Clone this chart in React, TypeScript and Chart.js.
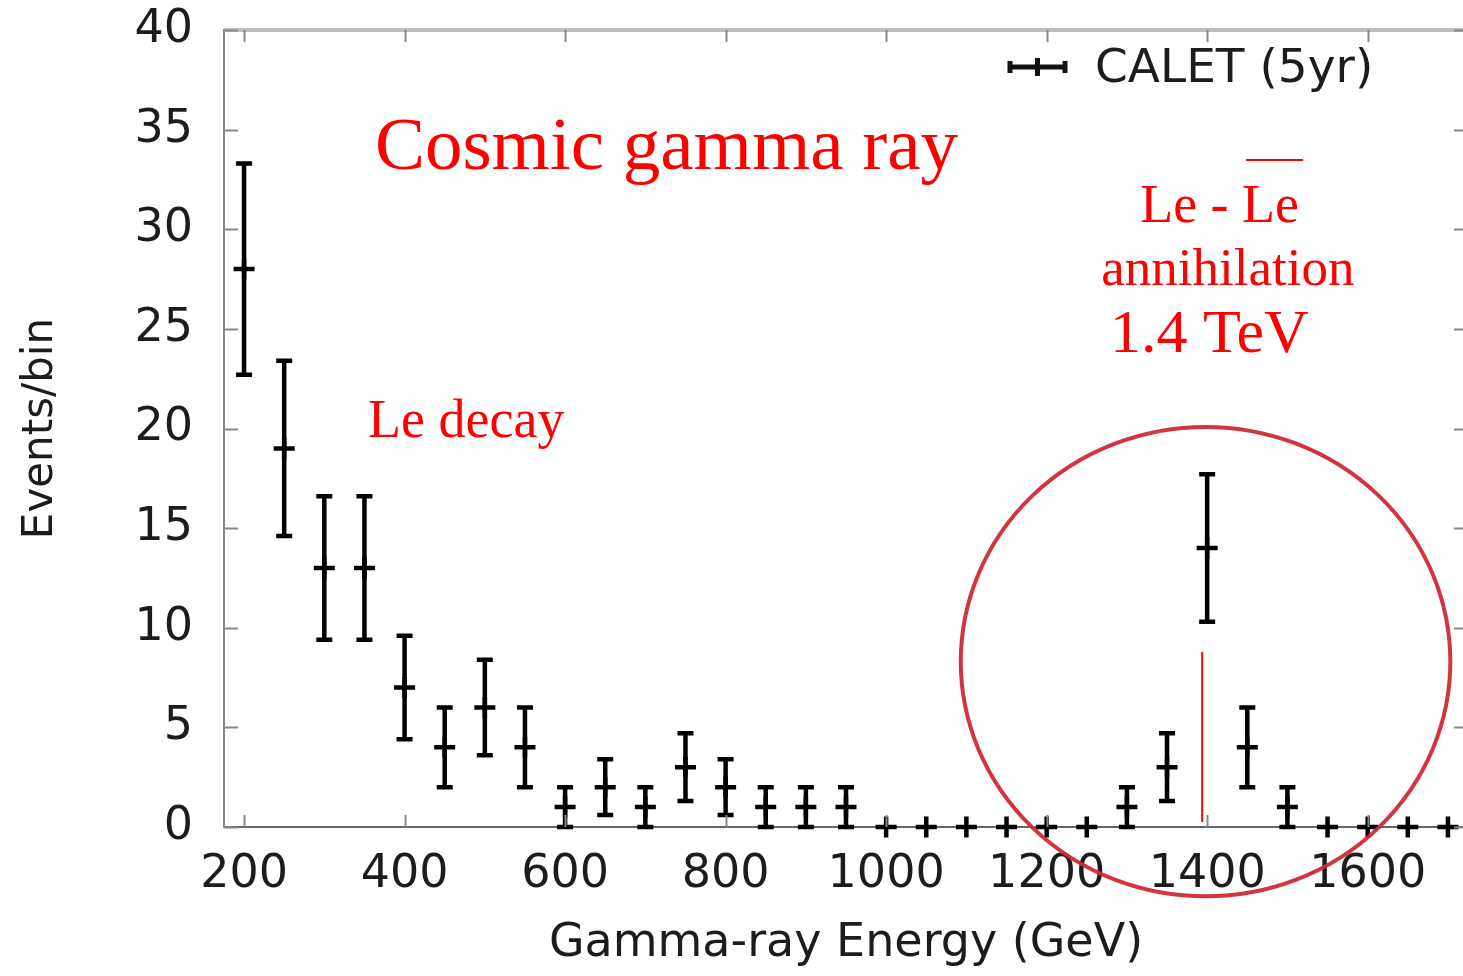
import { useEffect, useRef } from 'react';
import { Chart, registerables } from 'chart.js';

Chart.register(...registerables);

// Photon energy bin centres (GeV)
const energies = [
  200, 250, 300, 350, 400, 450, 500, 550, 600, 650, 700, 750, 800, 850, 900, 950,
  1000, 1050, 1100, 1150, 1200, 1250, 1300, 1350, 1400, 1450, 1500, 1550, 1600, 1650, 1700,
];
// Events counted in each bin
const counts = [
  28, 19, 13, 13, 7, 4, 6, 4, 1, 2, 1, 3, 2, 1, 1, 1,
  0, 0, 0, 0, 0, 0, 1, 3, 14, 4, 1, 0, 0, 0, 0,
];
// Statistical uncertainty on each bin (symmetric)
const errors = [
  5.3, 4.4, 3.6, 3.6, 2.6, 2.0, 2.4, 2.0, 1.0, 1.4, 1.0, 1.7, 1.4, 1.0, 1.0, 1.0,
  0, 0, 0, 0, 0, 0, 1.0, 1.7, 3.7, 2.0, 1.0, 0, 0, 0, 0,
];

const xTicks = [200, 400, 600, 800, 1000, 1200, 1400, 1600];
const yTicks = [0, 5, 10, 15, 20, 25, 30, 35, 40];

const seriesLabel = 'CALET (5yr)';
const xTitle = 'Gamma-ray Energy (GeV)';
const yTitle = 'Events/bin';

// Red notes placed in data coordinates (x in GeV, y in events)
const notes = [
  { text: 'Cosmic gamma ray', x: 363, y: 33.0, size: 75 },
  { text: 'Le decay', x: 354.5, y: 19.57, size: 54 },
  { text: 'Le - Le', x: 1316.5, y: 30.36, size: 54 },
  { text: 'annihilation', x: 1268, y: 27.2, size: 53 },
  { text: '1.4 TeV', x: 1279, y: 23.84, size: 62 },
];
const peakMarker = { x: 1393.8, yFrom: 0.25, yTo: 8.78 };
const peakRing = { x: 1398, y: 8.3, rx: 305, ry: 11.78 };

const AXIS_FONT = 'DejaVu Sans';
const TEXT_COLOR = '#1c1c1c';

const errorBars = {
  id: 'errorBars',
  beforeDatasetsDraw(chart: any) {
    const { ctx, scales } = chart;
    const { x, y } = scales;
    ctx.save();
    ctx.strokeStyle = '#000';
    ctx.lineWidth = 4.5;
    ctx.lineCap = 'butt';
    counts.forEach((c, i) => {
      const e = errors[i];
      if (!e) return;
      const px = x.getPixelForValue(energies[i]);
      const top = y.getPixelForValue(c + e);
      const bot = y.getPixelForValue(c - e);
      ctx.beginPath();
      ctx.moveTo(px, top);
      ctx.lineTo(px, bot);
      ctx.moveTo(px - 8, top);
      ctx.lineTo(px + 8, top);
      ctx.moveTo(px - 8, bot);
      ctx.lineTo(px + 8, bot);
      ctx.stroke();
    });
    ctx.restore();
  },
};

const frameAndNotes = {
  id: 'frameAndNotes',
  afterDraw(chart: any) {
    const { ctx, chartArea: a, scales } = chart;
    const { x, y } = scales;
    ctx.save();

    // top and right frame
    ctx.strokeStyle = '#bdbdbd';
    ctx.lineWidth = 4;
    ctx.beginPath();
    ctx.moveTo(a.left, a.top);
    ctx.lineTo(a.right, a.top);
    ctx.lineTo(a.right, a.bottom);
    ctx.stroke();

    // inward tick marks on all four sides
    ctx.strokeStyle = '#888';
    ctx.lineWidth = 2;
    ctx.beginPath();
    xTicks.forEach((v) => {
      const px = Math.round(x.getPixelForValue(v)) + 0.5;
      ctx.moveTo(px, a.bottom);
      ctx.lineTo(px, a.bottom - 12);
      ctx.moveTo(px, a.top);
      ctx.lineTo(px, a.top + 12);
    });
    yTicks.forEach((v) => {
      const py = Math.round(y.getPixelForValue(v)) + 0.5;
      ctx.moveTo(a.left, py);
      ctx.lineTo(a.left + 14, py);
      ctx.moveTo(a.right, py);
      ctx.lineTo(a.right - 14, py);
    });
    ctx.stroke();

    // key
    const ly = a.top + 37;
    const lx0 = a.right - 458;
    const lx1 = a.right - 403;
    ctx.strokeStyle = '#111';
    ctx.lineWidth = 5;
    ctx.beginPath();
    ctx.moveTo(lx0, ly);
    ctx.lineTo(lx1, ly);
    ctx.moveTo(lx0, ly - 6);
    ctx.lineTo(lx0, ly + 6);
    ctx.moveTo(lx1, ly - 6);
    ctx.lineTo(lx1, ly + 6);
    ctx.moveTo((lx0 + lx1) / 2, ly - 9);
    ctx.lineTo((lx0 + lx1) / 2, ly + 9);
    ctx.stroke();
    ctx.fillStyle = TEXT_COLOR;
    ctx.font = `47px "${AXIS_FONT}"`;
    ctx.textAlign = 'left';
    ctx.textBaseline = 'middle';
    ctx.fillText(chart.data.datasets[0].label, a.right - 373, ly + 3);

    // red notes
    ctx.fillStyle = '#ff0000';
    ctx.textBaseline = 'alphabetic';
    notes.forEach((n) => {
      ctx.font = `${n.size}px "Liberation Serif"`;
      ctx.fillText(n.text, x.getPixelForValue(n.x), y.getPixelForValue(n.y));
    });

    // bar over the second "Le"
    const pair = notes[2];
    ctx.font = `${pair.size}px "Liberation Serif"`;
    const ox = x.getPixelForValue(pair.x) + ctx.measureText('Le - ').width + 4;
    const ow = ctx.measureText('Le').width;
    const oy = y.getPixelForValue(pair.y) - 62;
    ctx.strokeStyle = '#ff0000';
    ctx.lineWidth = 2;
    ctx.beginPath();
    ctx.moveTo(ox, oy);
    ctx.lineTo(ox + ow, oy);
    ctx.stroke();

    // 1.4 TeV marker line
    const mx = x.getPixelForValue(peakMarker.x);
    ctx.beginPath();
    ctx.moveTo(mx, y.getPixelForValue(peakMarker.yTo));
    ctx.lineTo(mx, y.getPixelForValue(peakMarker.yFrom));
    ctx.stroke();

    // ring around the excess
    const cx = x.getPixelForValue(peakRing.x);
    const cy = y.getPixelForValue(peakRing.y);
    const rx = x.getPixelForValue(peakRing.x + peakRing.rx) - cx;
    const ry = cy - y.getPixelForValue(peakRing.y + peakRing.ry);
    ctx.strokeStyle = 'rgba(208, 42, 52, 0.95)';
    ctx.lineWidth = 4;
    ctx.beginPath();
    ctx.ellipse(cx, cy, rx, ry, 0, 0, Math.PI * 2);
    ctx.stroke();

    ctx.restore();
  },
};

const noPadding = (s: any) => {
  s.paddingTop = 0;
  s.paddingBottom = 0;
  s.paddingLeft = 0;
  s.paddingRight = 0;
};

export default function App() {
  const canvasRef = useRef<HTMLCanvasElement | null>(null);

  useEffect(() => {
    const canvas = canvasRef.current;
    if (!canvas) return;
    const chart = new Chart(canvas, {
      type: 'scatter',
      data: {
        datasets: [
          {
            label: seriesLabel,
            data: energies.map((e, i) => ({ x: e, y: counts[i] })),
            pointStyle: 'cross',
            pointRadius: 10.5,
            pointBorderWidth: 4.5,
            borderColor: '#000',
            backgroundColor: '#000',
            showLine: false,
            clip: false,
          } as any,
        ],
      },
      options: {
        animation: false,
        responsive: false,
        devicePixelRatio: 1,
        layout: { autoPadding: false, padding: { top: 30, right: 2, left: 0, bottom: 0 } },
        plugins: {
          legend: { display: false },
          tooltip: { enabled: false },
        },
        scales: {
          x: {
            type: 'linear',
            position: 'bottom',
            min: 175,
            max: 1725,
            afterBuildTicks: (s: any) => {
              s.ticks = xTicks.map((v) => ({ value: v }));
            },
            afterFit: (s: any) => {
              s.height = 149;
              noPadding(s);
            },
            grid: { display: false, drawTicks: false },
            border: { display: true, color: '#666', width: 2 },
            ticks: {
              font: { family: AXIS_FONT, size: 46 },
              color: TEXT_COLOR,
              padding: 20,
              maxRotation: 0,
              autoSkip: false,
              callback: (v: any) => String(v),
            },
            title: {
              display: true,
              text: xTitle,
              font: { family: AXIS_FONT, size: 46 },
              color: TEXT_COLOR,
              padding: { top: 4, bottom: 4 },
            },
          },
          y: {
            type: 'linear',
            min: 0,
            max: 40,
            afterBuildTicks: (s: any) => {
              s.ticks = yTicks.map((v) => ({ value: v }));
            },
            afterFit: (s: any) => {
              s.width = 224;
              noPadding(s);
            },
            grid: { display: false, drawTicks: false },
            border: { display: true, color: '#888', width: 2 },
            ticks: {
              font: { family: AXIS_FONT, size: 46 },
              color: TEXT_COLOR,
              padding: 31,
              autoSkip: false,
              callback: (v: any) => String(v),
            },
            title: {
              display: true,
              text: yTitle,
              font: { family: AXIS_FONT, size: 42 },
              color: TEXT_COLOR,
              padding: { top: 16, bottom: 0 },
            },
          },
        },
      },
      plugins: [errorBars, frameAndNotes],
    });
    return () => chart.destroy();
  }, []);

  return (
    <div
      style={{
        position: 'fixed',
        left: 0,
        top: 0,
        width: 1463,
        height: 976,
        overflow: 'hidden',
        background: '#fff',
      }}
    >
      <canvas ref={canvasRef} width={1470} height={976} style={{ width: 1470, height: 976, display: 'block' }} />
    </div>
  );
}
